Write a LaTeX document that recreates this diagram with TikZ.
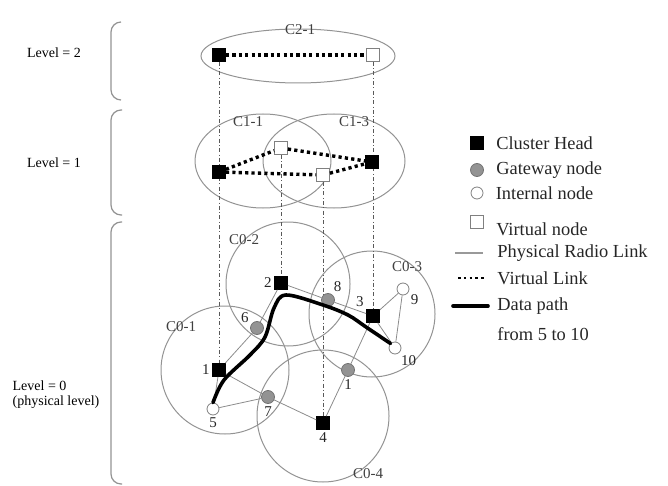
\documentclass[tikz,border=0pt]{standalone}
\usepackage{fontspec}
\setmainfont{Liberation Serif}
\usetikzlibrary{positioning,backgrounds}

\begin{document}
\begin{tikzpicture}
      [   x=0.5pt,y=-0.5pt,
          chnode/.style={draw=black,fill=black,minimum size=6.5pt,inner sep=0pt,rectangle},
          vnode/.style={draw=gray,fill=white,minimum size=6.5pt,inner sep=0pt,rectangle},
          gwnode/.style={draw=gray!90!black,fill=gray!85,minimum size=6.5pt,inner sep=0pt,circle},
          innode/.style={draw=gray,fill=white,minimum size=6pt,inner sep=0pt,circle},
          area/.style={draw=gray!85,line width=0.5pt},
          plink/.style={gray!90,line width=0.4pt},
          vlink/.style={black,line width=1.7pt,dash pattern=on 1.6pt off 1.6pt},
          proj/.style={gray!70!black,line width=0.4pt,dash pattern=on 2pt off 1.2pt on 0.4pt off 1.2pt},
          dpath/.style={black,line width=1.8pt,line cap=round},
          lvlbrace/.style={gray!85,line width=0.6pt,rounded corners=5pt},
          lvltext/.style={font=\fontsize{7}{7.5}\selectfont,align=left,inner sep=0pt},
          tag/.style={font=\fontsize{7.5}{8}\selectfont,inner sep=0pt,text=gray!50!black},
          legtext/.style={font=\fontsize{9.2}{11}\selectfont,inner sep=1pt,text=black!85},
          every label/.style={font=\fontsize{7.5}{8}\selectfont,inner sep=1pt,text=black!85},
      ]
          \useasboundingbox (0,0) rectangle (668,486);

          % levels
          \draw[lvlbrace] (121,22) -- (111,22) -- (111,100) -- (121,100);
          \draw[lvlbrace] (122,110) -- (111,110) -- (111,215) -- (122,215);
          \draw[lvlbrace] (122,222) -- (111,222) -- (111,484) -- (122,484);
          \node[lvltext] (lv2) at (54,53) {Level = 2};
          \node[lvltext] (lv1) at (54,163) {Level = 1};
          \node[lvltext] (lv0) at (56,395) {Level = 0\\(physical level)};

          % level 2
          \node[chnode] (ch2) at (219,55) {};
          \node[vnode] (vn2) at (373,55) {};
          % level 1
          \node[chnode] (ch11) at (219,172) {};
          \node[vnode] (vA) at (281,148) {};
          \node[vnode] (vB) at (323,175) {};
          \node[chnode] (ch13) at (372,162) {};
          % level 0
          \node[chnode,label=left:1] (n1) at (219,370) {};
          \node[chnode,label=left:2] (n2) at (281,283) {};
          \node[chnode,label=135:3] (n3) at (373,316) {};
          \node[chnode,label=below:4] (n4) at (323,423) {};
          \node[innode,label=below:5] (n5) at (213,409) {};
          \node[gwnode,label=150:6] (n6) at (257,328) {};
          \node[gwnode,label=below:7] (n7) at (268,397) {};
          \node[gwnode,label=60:8] (n8) at (328,300) {};
          \node[innode,label=-30:9] (n9) at (403,289) {};
          \node[innode,label=-55:10] (n10) at (395,348) {};
          \node[gwnode,label=below:1] (n11) at (348,370) {};

          \node[tag] (t21) at (300,30) {C2-1};
          \node[tag] (t11) at (248,122) {C1-1};
          \node[tag] (t13) at (354,122) {C1-3};
          \node[tag] (t01) at (181,327) {C0-1};
          \node[tag] (t02) at (244,240) {C0-2};
          \node[tag] (t03) at (407,267) {C0-3};
          \node[tag] (t04) at (368,474) {C0-4};

          \begin{scope}[on background layer]
              \draw[area] (298,56) ellipse [x radius=97,y radius=27];
              \draw[area] (263,161) ellipse [x radius=68,y radius=47];
              \draw[area] (334,161) ellipse [x radius=71,y radius=47];
              \draw[area] (225,370) circle [radius=64];
              \draw[area] (288,284) circle [radius=62];
              \draw[area] (372,314) circle [radius=63];
              \draw[area] (323,416) circle [radius=66];
              \draw[proj] (ch2) -- (n1);
              \draw[proj] (vn2) -- (n3);
              \draw[proj] (vA) -- (n2);
              \draw[proj] (vB) -- (n4);
          \end{scope}

          \draw[vlink] (ch2) -- (vn2);
          \draw[vlink] (ch11) -- (vA) -- (ch13);
          \draw[vlink] (ch11) -- (vB) -- (ch13);

          \foreach \a/\b in {n5/n1,n1/n6,n6/n2,n2/n8,n8/n3,n3/n9,n9/n10,n3/n10,n1/n7,n5/n7,n7/n4,n4/n11,n11/n3}
              \draw[plink] (\a) -- (\b);

          \draw[dpath] plot[smooth,tension=0.55] coordinates {(n5.north) (224,380) (250,355) (265,337) (274,308) (286,295) (323,305) (348,315) (366,327) (n10.north west)};

          % legend
          \foreach \y/\kind/\dy/\txt in {143/chnode/0/Cluster Head,170/gwnode/0/Gateway node,193/innode/0/Internal node,222/vnode/-3.5/Virtual node}
          {   \node[\kind] (key-\kind) at (477,\y) {};
              \node[legtext,right=5pt of key-\kind,yshift=\dy pt] (txt-\kind) {\txt};
          }
          \coordinate (pl-a) at (455,253);
          \coordinate (pl-b) at (483,253);
          \draw[gray!80,line width=0.9pt] (pl-a) -- (pl-b);
          \node[legtext,right=6pt of pl-b] (txt-pl) {Physical Radio Link};
          \coordinate (vl-a) at (458,278);
          \coordinate (vl-b) at (485,278);
          \draw[black,line width=1.3pt,dash pattern=on 1.3pt off 1.6pt] (vl-a) -- (vl-b);
          \node[legtext,right=5pt of vl-b] (txt-vl) {Virtual Link};
          \coordinate (dp-a) at (453,306);
          \coordinate (dp-b) at (488,306);
          \draw[dpath] (dp-a) -- (dp-b);
          \node[legtext,right=3.5pt of dp-b] (txt-dp) {Data path};
          \node[legtext,below=4pt of txt-dp.south west,anchor=north west] (txt-dp2) {from 5 to 10};
    \end{tikzpicture}
\end{document}
